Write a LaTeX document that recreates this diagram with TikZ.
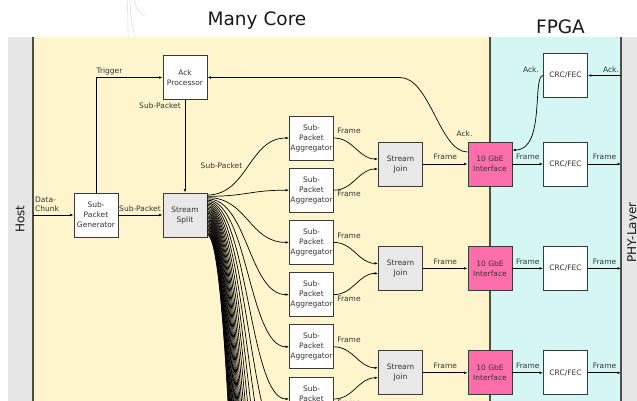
\documentclass[tikz,border=0pt]{standalone}
\usepackage{fontspec}
\setmainfont{DejaVu Sans}
\usetikzlibrary{arrows.meta,calc}
\definecolor{yel}{HTML}{FFF5CC}
\definecolor{cya}{HTML}{D4F7F4}
\definecolor{gry}{HTML}{E6E6E6}
\definecolor{spl}{HTML}{E8E8E8}
\definecolor{pnk}{HTML}{FF6EAA}
\definecolor{bord}{HTML}{3A3A3A}
\definecolor{txt}{HTML}{333333}
\begin{document}
\begin{tikzpicture}[x=1pt,y=-1pt,
  box/.style={draw=bord, line width=0.9pt, minimum width=44pt, minimum height=44pt,
    inner sep=0pt, align=center, font=\fontsize{7.5}{10}\selectfont, text=txt, fill=white},
  grbox/.style={box, fill=spl},
  pbox/.style={box, fill=pnk},
  lab/.style={font=\fontsize{7.5}{9.5}\selectfont, text=txt, inner sep=0pt},
  arr/.style={-{Latex[length=3.5pt,width=2.6pt]}, line width=0.7pt, draw=black},
  sep/.style={draw=bord!90, line width=1.2pt},
  title/.style={font=\fontsize{18.5}{20}\selectfont, text=black!90, inner sep=0pt},
  side/.style={font=\fontsize{12}{14}\selectfont, text=black!90, inner sep=0pt, rotate=90}
]
\useasboundingbox (0,0) rectangle (637,401);
\clip (0,0) rectangle (637,401);
% faint stray strokes
\draw[black!15, line width=0.5pt] (127,0) .. controls (128,15) .. (128,37);
\draw[black!15, line width=0.5pt] (130,0) .. controls (131,20) .. (135,37);
\draw[black!15, line width=0.5pt] (134,0) .. controls (137,10) and (140,14) .. (145,16);
% regions
\fill[gry] (8,37) rectangle (33,401);
\fill[yel] (33,37) rectangle (490,401);
\fill[cya] (490,37) rectangle (621,401);
\fill[gry] (621,37) rectangle (637,401);
\draw[sep] (33,37) -- (33,401);
\draw[sep] (490,37) -- (490,401);
\draw[sep] (621,37) -- (621,401);
% titles
\node[title] (tMC) at (257,21) {Many Core};
\node[title] (tFP) at (560.5,27) {FPGA};
\node[side] (tHost) at (20,219) {Host};
\node[side] (tPHY) at (633,232.5) {PHY-Layer};
% main nodes
\node[box] (gen) at (96,215) {Sub-\\Packet\\Generator};
\node[grbox] (split) at (185,215) {Stream\\Split};
\node[box] (ack) at (185,77.5) {Ack\\Processor};
\foreach \i in {0,...,5}
  \node[box] (a\i) at (311.5,{138+52.2*\i}) {Sub-\\Packet\\Aggregator};
\foreach \k in {0,1,2} {
  \node[grbox] (j\k) at (400.5,{164+104.4*\k}) {Stream\\Join};
  \node[pbox] (g\k) at (490,{164+104.4*\k}) {10 GbE\\Interface};
  \node[box] (c\k) at (565.5,{164+104.4*\k}) {CRC/FEC};
  \coordinate (p\k) at (621,{164+104.4*\k});
}
\node[box] (cack) at (565.5,75.5) {CRC/FEC};
% coordinates
\coordinate (host) at (33,215);
\coordinate (phyack) at (621,75.5);
\coordinate (ackbend) at (400,77.5);
\foreach \i in {0,...,5} \coordinate (t\i) at (a\i.west);
\foreach \i in {6,...,31} \coordinate (t\i) at (289.5,{138+52.2*\i});
% host side
\draw[arr] (host) -- (gen.west);
\node[lab, anchor=west, align=left] (lDC) at (35,204.5) {Data-\\Chunk};
\draw[arr] (gen.east) -- (split.west);
\node[lab] (lSP1) at (140,209) {Sub-Packet};
\draw[arr] (gen.north) |- (ack.west);
\node[lab] (lTr) at (109.5,71) {Trigger};
\draw[arr] (ack.south) -- (split.north);
\node[lab] (lSP2) at (160,106) {Sub-Packet};
% fan out of stream split
\foreach \i [evaluate=\i as \yo using 20-1.3*\i] in {0,...,31}
  \draw[arr] ([yshift=\yo pt]split.east) .. controls +(40,0) and +(-40,0) .. (t\i);
\node[lab] (lSP3) at (221.5,166) {Sub-Packet};
% aggregators to joins
\foreach \k [evaluate=\k as \u using int(2*\k), evaluate=\k as \v using int(2*\k+1)] in {0,1,2} {
  \draw[arr] (a\u.east) to[out=0,in=180] ([yshift=5pt]j\k.west);
  \draw[arr] (a\v.east) to[out=0,in=180] ([yshift=-5pt]j\k.west);
  \node[lab] (lFa\k) at ($(a\u.east)+(15,-7)$) {Frame};
  \node[lab] (lFb\k) at ($(a\v.east)+(15,4)$) {Frame};
  \draw[arr] (j\k.east) -- (g\k.west);
  \node[lab] (lFj\k) at ($(j\k.east)!0.5!(g\k.west)+(0,-7)$) {Frame};
  \draw[arr] (g\k.east) -- (c\k.west);
  \node[lab] (lFg\k) at ($(g\k.east)!0.5!(c\k.west)+(0,-7)$) {Frame};
  \draw[arr] (c\k.east) -- (p\k);
  \node[lab] (lFc\k) at ($(c\k.east)!0.5!(p\k)+(0,-7)$) {Frame};
}
% acknowledgement path
\draw[arr] (phyack) -- (cack.east);
\node[lab] (lA1) at (611,69.5) {Ack.};
\draw[arr] (cack.west) .. controls +(-11,0) and +(33,0) .. ([yshift=14pt]g0.east);
\node[lab] (lA2) at (531,69.5) {Ack.};
\draw[arr] ([yshift=12pt]g0.west) .. controls +(-28,0) and +(30,0) .. (ackbend) -- (ack.east);
\node[lab] (lA3) at (464.5,134) {Ack.};
\end{tikzpicture}
\end{document}
